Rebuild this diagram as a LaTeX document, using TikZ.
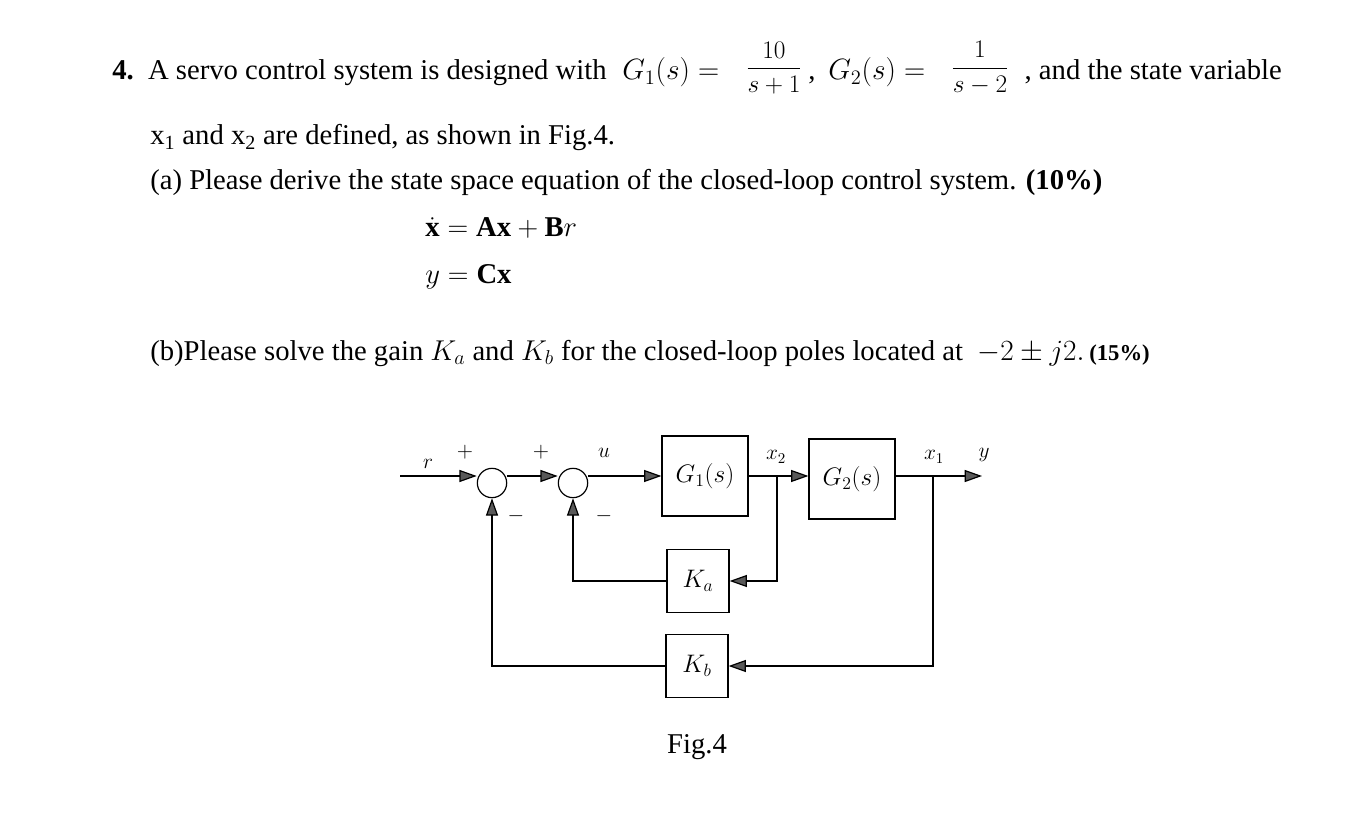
\documentclass[tikz,border=0pt]{standalone}
\usepackage{fix-cm}
\usepackage{amsmath}
\usepackage{fontspec}
\setmainfont{Liberation Serif}
\usetikzlibrary{arrows.meta}
\begin{document}
\begin{tikzpicture}[x=0.75pt,y=-0.75pt,
  txt/.style={anchor=base west,inner sep=0pt,font=\fontsize{21.5}{24}\selectfont},
  mth/.style={anchor=base west,inner sep=0pt,font=\fontsize{22}{24}\selectfont},
  blk/.style={draw,line width=0.9pt,minimum width=64.5pt,minimum height=60pt,inner sep=0pt,font=\fontsize{19}{22}\selectfont},
  kblk/.style={draw,line width=0.9pt,minimum width=46.5pt,minimum height=47pt,inner sep=0pt,font=\fontsize{19}{22}\selectfont},
  sum/.style={draw,line width=0.9pt,circle,minimum size=22pt,inner sep=0pt},
  lbl/.style={inner sep=0pt,font=\fontsize{16}{18}\selectfont},
  ar/.style={-{Triangle[length=13pt,width=9pt,fill=gray!70!black]}},
  line/.style={line width=0.9pt}]
\useasboundingbox (0,0) rectangle (1359,830);
\node[txt] (t1) at (112,80) {\textbf{4.}\ \ A servo control system is designed with};
\node[mth] (m1) at (622,80) {$G_1(s)=$};
\node[anchor=center,inner sep=0pt,font=\fontsize{19}{22}\selectfont] (f1) at (774,68) {$\dfrac{10}{s+1}$};
\node[txt] (c1) at (808,80) {,};
\node[mth] (m2) at (828,80) {$G_2(s)=$};
\node[anchor=center,inner sep=0pt,font=\fontsize{19}{22}\selectfont] (f2) at (980,68) {$\dfrac{1}{s-2}$};
\node[txt,anchor=base east] (t1b) at (1282,80) {, and the state variable};
\node[txt] (t2) at (150,145) {x\textsubscript{1} and x\textsubscript{2} are defined, as shown in Fig.4.};
\node[txt] (t3) at (150,190) {(a) Please derive the state space equation of the closed-loop control system. \textbf{(10\%)}};
\node[txt] (e1) at (425,237) {$\dot{\mathbf{x}}=\mathbf{A}\mathbf{x}+\mathbf{B}r$};
\node[txt] (e2) at (425,284) {$y=\mathbf{C}\mathbf{x}$};
\node[txt] (t4) at (150,360) {(b)Please solve the gain $K_a$ and $K_b$ for the closed-loop poles located at \ {\fontsize{22}{24}\selectfont$-2\pm j2.$}\,\textbf{\fontsize{17}{18}\selectfont(15\%)}};

\node[sum] (s1) at (492,483) {};
\node[sum] (s2) at (573,483) {};
\node[blk] (g1) at (705,476) {$G_1(s)$};
\node[blk] (g2) at (852,479) {$G_2(s)$};
\node[kblk] (ka) at (698,581) {$K_a$};
\node[kblk] (kb) at (697,666) {$K_b$};
\coordinate (rin) at (400,476);
\coordinate (b2) at (777,476);
\coordinate (b1) at (933,476);
\coordinate (yout) at (982,476);
\draw[line,ar] (rin) -- (rin -| s1.west);
\draw[line,ar] (s1.east |- rin) -- (s2.west |- rin);
\draw[line,ar] (s2.east |- rin) -- (g1.west |- rin);
\draw[line,ar] (g1.east |- rin) -- (g2.west |- rin);
\draw[line,ar] (g2.east |- rin) -- (yout);
\draw[line,ar] (b2) |- (ka.east);
\draw[line,ar] (ka.west) -| (s2.south);
\draw[line,ar] (b1) |- (kb.east);
\draw[line,ar] (kb.west) -| (s1.south);
\node[lbl] (lr) at (428,464) {$r$};
\node[lbl] (p1) at (465,452) {$+$};
\node[lbl] (p2) at (541,452) {$+$};
\node[lbl] (lu) at (604,453) {$u$};
\node[lbl] (m1s) at (516,516) {$-$};
\node[lbl] (m2s) at (604,516) {$-$};
\node[lbl] (lx2) at (776,457) {$x_2$};
\node[lbl] (lx1) at (934,457) {$x_1$};
\node[lbl] (ly) at (984,455) {$y$};
\node[txt,anchor=base] (fig) at (697,753) {Fig.4};
\end{tikzpicture}
\end{document}
